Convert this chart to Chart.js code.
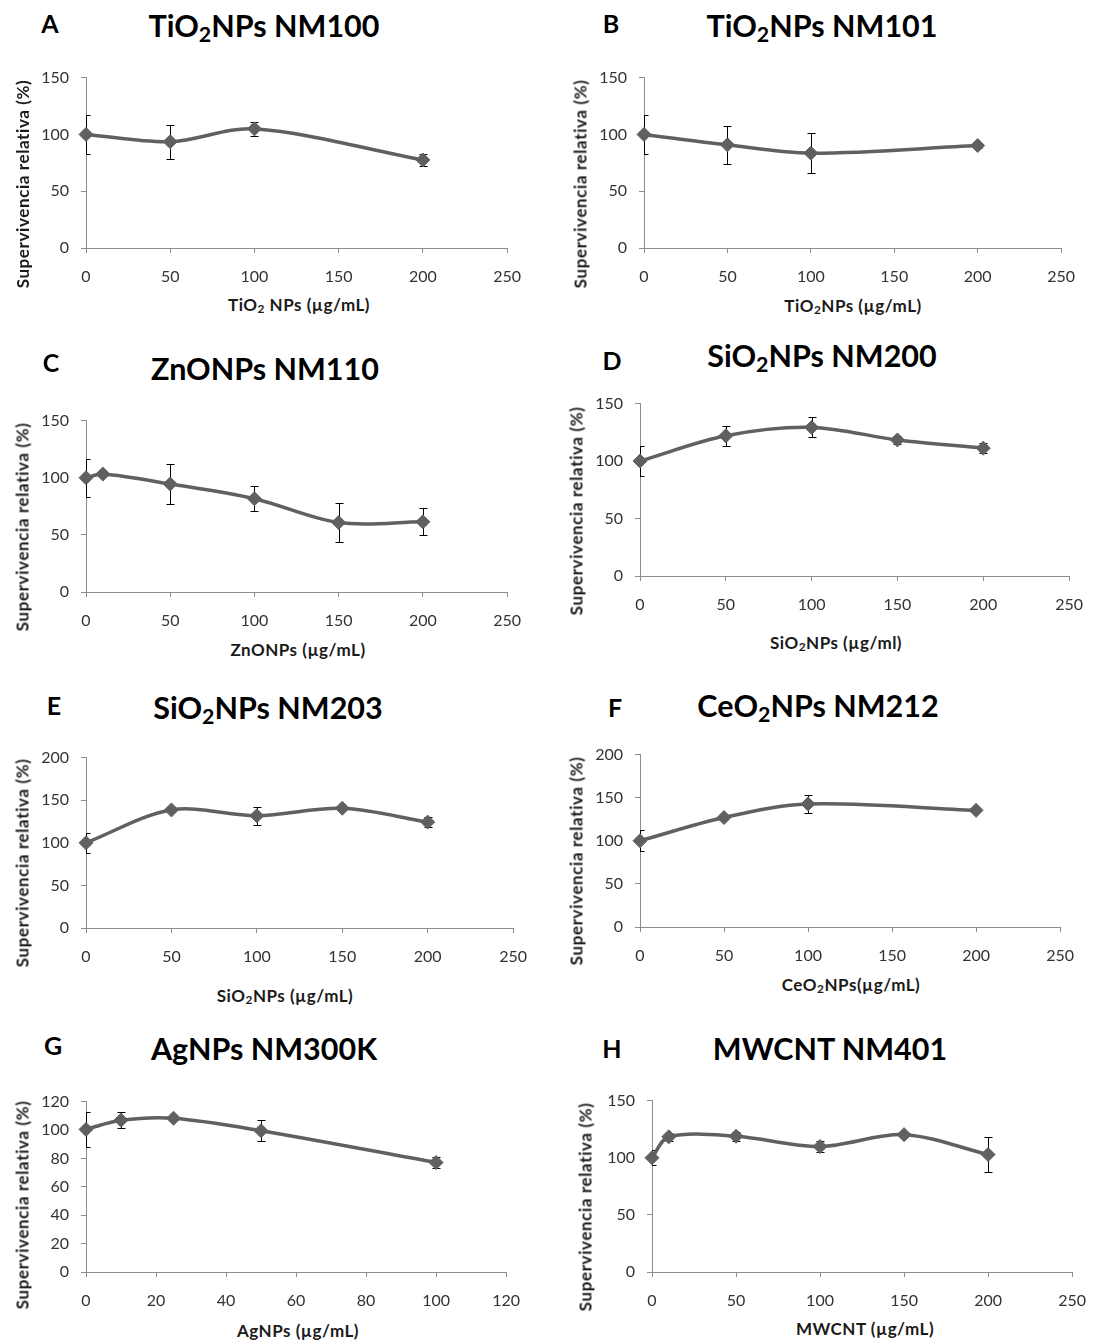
<!DOCTYPE html>
<html>
<head>
<meta charset="utf-8">
<title>Supervivencia relativa</title>
<script src="https://cdn.jsdelivr.net/npm/chart.js"></script>
<style>
 body { margin: 0; background: #fff; font-family: Lato, "Open Sans", sans-serif; }
 #page { position: relative; width: 1100px; height: 1342px; overflow: hidden; }
 canvas { position: absolute; }
 .txt { position: absolute; white-space: nowrap; color: #000; font-weight: bold; transform: translate(-50%, -50%); line-height: 1; }
 .letter { font-size: 25px; }
 .title { font-size: 30.5px; }
 .xt { font-size: 17px; letter-spacing: 0.5px; color: #1a1a1a; }
 .yt { font-size: 17px; letter-spacing: 0.6px; color: #1a1a1a; transform: translate(-50%, -50%) rotate(-90deg); }
 sub { font-size: 0.7em; vertical-align: -0.25em; line-height: 0; }
</style>
</head>
<body>
<div id="page"></div>
<script>
// values (relative survival %, error = half bar length)
const xA = [0, 50, 100, 200];
const yA = [100, 93.6, 104.9, 77.5];
const eA = [17.5, 15, 6, 5];

const xB = [0, 50, 100, 200];
const yB = [100, 90.8, 83.5, 90.2];
const eB = [17.5, 16.5, 17.5, 2];

const xC = [0, 10, 50, 100, 150, 200];
const yC = [100, 103.2, 94.5, 81.6, 60.8, 61.4];
const eC = [16.5, 1.5, 17.8, 10.8, 17, 11.8];

const xD = [0, 50, 100, 150, 200];
const yD = [100, 122, 129.3, 118.4, 111.2];
const eD = [12.7, 8.7, 8.7, 3.5, 4.3];

const xE = [0, 50, 100, 150, 200];
const yE = [100, 138.6, 131.8, 140.5, 124.3];
const eE = [11.8, 3, 10.7, 2, 6];

const xF = [0, 50, 100, 200];
const yF = [100, 127, 142.8, 135.3];
const eF = [12, 2, 10.5, 2];

const xG = [0, 10, 25, 50, 100];
const yG = [100.4, 106.9, 108.3, 99.5, 77.1];
const eG = [12.4, 5.5, 1.5, 7.3, 3.7];

const xH = [0, 10, 50, 100, 150, 200];
const yH = [100, 118.3, 118.8, 109.8, 120.2, 102.8];
const eH = [6.5, 3.6, 4, 5, 2, 15];

const yLabel = 'Supervivencia relativa (%)';

// layout of each panel: plot box [left, top, right, bottom] and text centres
const panels = [
 { letter: 'A', title: 'TiO<sub>2</sub>NPs NM100', xTitle: 'TiO<sub>2</sub> NPs (µg/mL)',
   x: xA, y: yA, e: eA, xMax: 250, xStep: 50, yMax: 150, yStep: 50,
   box: [86, 71, 513, 248], lp: [50, 23], tp: [264, 25], xp: [299, 304], yp: [22, 184] },
 { letter: 'B', title: 'TiO<sub>2</sub>NPs NM101', xTitle: 'TiO<sub>2</sub>NPs (µg/mL)',
   x: xB, y: yB, e: eB, xMax: 250, xStep: 50, yMax: 150, yStep: 50,
   box: [644, 71, 1067, 248], lp: [611, 23], tp: [822, 25], xp: [853, 305], yp: [580, 184] },
 { letter: 'C', title: 'ZnONPs NM110', xTitle: 'ZnONPs (µg/mL)',
   x: xC, y: yC, e: eC, xMax: 250, xStep: 50, yMax: 150, yStep: 50,
   box: [86, 414, 513, 592], lp: [51, 362], tp: [265, 368], xp: [298, 649], yp: [22, 527] },
 { letter: 'D', title: 'SiO<sub>2</sub>NPs NM200', xTitle: 'SiO<sub>2</sub>NPs (µg/ml)',
   x: xD, y: yD, e: eD, xMax: 250, xStep: 50, yMax: 150, yStep: 50,
   box: [640, 397, 1075, 576], lp: [612, 360], tp: [822, 355], xp: [836, 642], yp: [576, 511] },
 { letter: 'E', title: 'SiO<sub>2</sub>NPs NM203', xTitle: 'SiO<sub>2</sub>NPs (µg/mL)',
   x: xE, y: yE, e: eE, xMax: 250, xStep: 50, yMax: 200, yStep: 50,
   box: [86, 751, 519, 928], lp: [54, 705], tp: [268, 707], xp: [285, 995], yp: [22, 863] },
 { letter: 'F', title: 'CeO<sub>2</sub>NPs NM212', xTitle: 'CeO<sub>2</sub>NPs(µg/mL)',
   x: xF, y: yF, e: eF, xMax: 250, xStep: 50, yMax: 200, yStep: 50,
   box: [640, 748, 1066, 927], lp: [615, 707], tp: [818, 705], xp: [851, 984], yp: [576, 861] },
 { letter: 'G', title: 'AgNPs NM300K', xTitle: 'AgNPs (µg/mL)',
   x: xG, y: yG, e: eG, xMax: 120, xStep: 20, yMax: 120, yStep: 20,
   box: [86, 1095, 512, 1272], lp: [53, 1045], tp: [264, 1048], xp: [298, 1330], yp: [22, 1205] },
 { letter: 'H', title: 'MWCNT NM401', xTitle: 'MWCNT (µg/mL)',
   x: xH, y: yH, e: eH, xMax: 250, xStep: 50, yMax: 150, yStep: 50,
   box: [652, 1094, 1078, 1272], lp: [612, 1048], tp: [830, 1048], xp: [865, 1328], yp: [585, 1207] }
];

const PAD_L = 70, PAD_T = 15, PAD_R = 22, PAD_B = 40;
const axisGrey = '#8c8c8c';
const lineGrey = '#606060';

// vertical error bars, clipped at the left edge of the plot like Excel does
const errorBars = {
 id: 'errorBars',
 beforeDatasetsDraw(chart) {
  const { ctx, chartArea, scales: { x, y } } = chart;
  const ds = chart.data.datasets[0];
  ctx.save();
  ctx.beginPath();
  ctx.rect(chartArea.left, chartArea.top - 30, chartArea.right - chartArea.left + 30, chartArea.bottom - chartArea.top + 60);
  ctx.clip();
  ctx.strokeStyle = '#000';
  ctx.lineWidth = 1;
  ds.data.forEach((p, i) => {
   const e = ds.errs[i];
   if (!e) return;
   const px = Math.round(x.getPixelForValue(p.x)) + 0.5;
   const top = Math.round(y.getPixelForValue(p.y + e)) + 0.5;
   const bot = Math.round(y.getPixelForValue(p.y - e)) + 0.5;
   ctx.beginPath();
   ctx.moveTo(px, top); ctx.lineTo(px, bot);
   ctx.moveTo(px - 4, top); ctx.lineTo(px + 4, top);
   ctx.moveTo(px - 4, bot); ctx.lineTo(px + 4, bot);
   ctx.stroke();
  });
  ctx.restore();
 }
};

function addText(cls, html, pos) {
 const d = document.createElement('div');
 d.className = 'txt ' + cls;
 d.innerHTML = html;
 d.style.left = pos[0] + 'px';
 d.style.top = pos[1] + 'px';
 page.appendChild(d);
}

const page = document.getElementById('page');
Chart.defaults.font.family = 'Lato, "Open Sans", sans-serif';

panels.forEach(p => {
 const [l, t, r, b] = p.box;
 const cv = document.createElement('canvas');
 const w = r - l + PAD_L + PAD_R, h = b - t + PAD_T + PAD_B;
 cv.width = w; cv.height = h;
 cv.style.width = w + 'px'; cv.style.height = h + 'px';
 cv.style.left = (l - PAD_L) + 'px';
 cv.style.top = (t - PAD_T) + 'px';
 page.appendChild(cv);

 const tickFont = { size: 16 };
 new Chart(cv, {
  type: 'line',
  data: {
   datasets: [{
    data: p.x.map((v, i) => ({ x: v, y: p.y[i] })),
    errs: p.e,
    borderColor: lineGrey,
    borderWidth: 3.5,
    tension: 0.33,
    fill: false,
    clip: false,
    pointStyle: 'rectRot',
    pointRadius: 7,
    pointBackgroundColor: lineGrey,
    pointBorderColor: lineGrey,
    pointBorderWidth: 1
   }]
  },
  options: {
   responsive: false,
   animation: false,
   events: [],
   layout: { padding: { left: 0, top: PAD_T, right: PAD_R, bottom: 0 } },
   plugins: { legend: { display: false }, tooltip: { enabled: false } },
   scales: {
    x: {
     type: 'linear', min: 0, max: p.xMax,
     ticks: { stepSize: p.xStep, padding: 14, color: '#333', font: tickFont, maxRotation: 0 },
     grid: { drawOnChartArea: false, drawTicks: true, tickLength: 5, color: axisGrey },
     border: { color: axisGrey },
     afterFit(s) { s.height = PAD_B; }
    },
    y: {
     min: 0, max: p.yMax,
     ticks: { stepSize: p.yStep, padding: 12, color: '#333', font: tickFont },
     grid: { drawOnChartArea: false, drawTicks: true, tickLength: 5, color: axisGrey },
     border: { color: axisGrey },
     afterFit(s) { s.width = PAD_L; }
    }
   }
  },
  plugins: [errorBars]
 });

 addText('letter', p.letter, p.lp);
 addText('title', p.title, p.tp);
 addText('xt', p.xTitle, p.xp);
 addText('yt', yLabel, p.yp);
});
</script>
</body>
</html>
